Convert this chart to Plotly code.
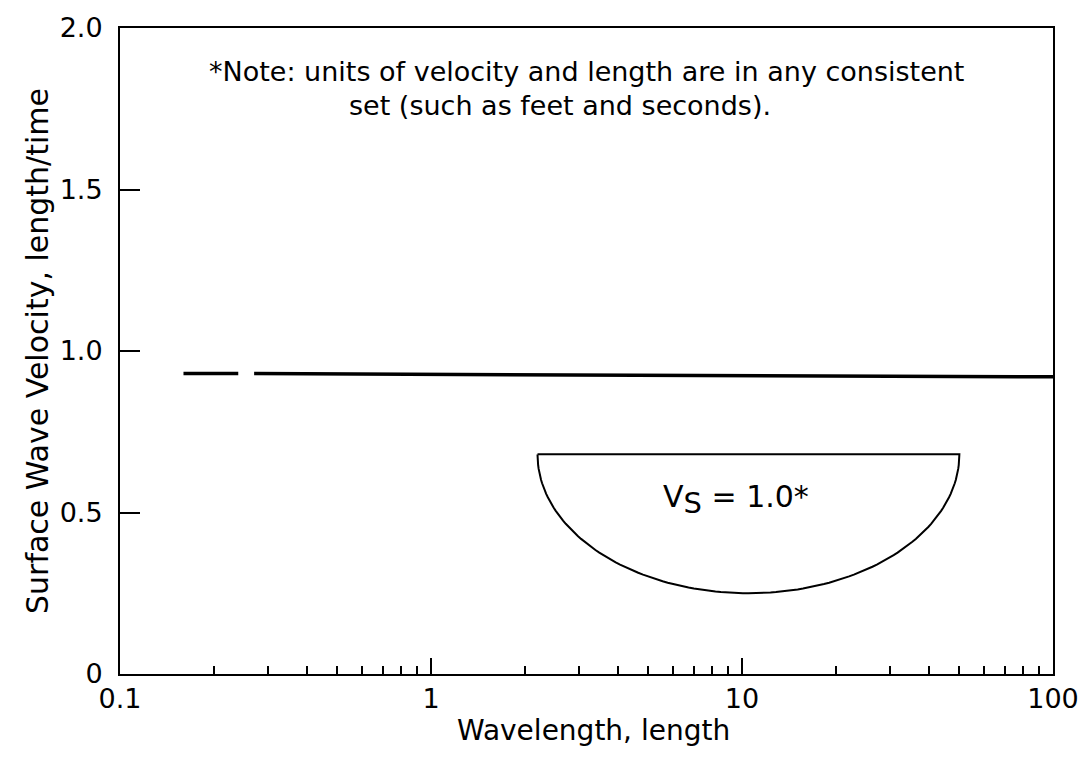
import numpy as np
import plotly.graph_objects as go

# Data
wavelength = [0.16, 0.24, None, 0.27, 100]
velocity = [0.93, 0.93, None, 0.93, 0.92]

# half-space symbol extent (data units)
hs_x_left, hs_x_right = 2.2, 50.0
hs_y_top, hs_y_bottom = 0.68, 0.25

x_tickvals = [0.1, 1, 10, 100]
x_ticktext = ["0.1", "1", "10", "100"]
y_tickvals = [0, 0.5, 1.0, 1.5, 2.0]
y_ticktext = ["0", "0.5", "1.0", "1.5", "2.0"]
minor_vals = [k * 10.0 ** d for d in (-1, 0, 1) for k in range(2, 10)]

FONT = "DejaVu Sans, Liberation Sans, Arial, sans-serif"

# half-ellipse in log-x space
lx0, lx1 = np.log10(hs_x_left), np.log10(hs_x_right)
cx, rx = (lx0 + lx1) / 2, (lx1 - lx0) / 2
t = np.linspace(np.pi, 2 * np.pi, 121)
arc_x = 10 ** (cx + rx * np.cos(t))
arc_y = hs_y_top + (hs_y_top - hs_y_bottom) * np.sin(t)
hs_x = np.concatenate([[hs_x_left], arc_x, [hs_x_right, hs_x_left]])
hs_y = np.concatenate([[hs_y_top], arc_y, [hs_y_top, hs_y_top]])

fig = go.Figure()
fig.add_trace(go.Scatter(x=wavelength, y=velocity, mode="lines",
                         line=dict(color="black", width=3.5), hoverinfo="skip",
                         showlegend=False))
fig.add_trace(go.Scatter(x=hs_x, y=hs_y, mode="lines",
                         line=dict(color="black", width=2), hoverinfo="skip",
                         showlegend=False))

fig.add_annotation(x=-0.72, y=1.865, xref="x", yref="y", xanchor="left", yanchor="middle",
                   text="*Note: units of velocity and length are in any consistent",
                   showarrow=False, font=dict(family=FONT, size=27, color="black"))
fig.add_annotation(x=-0.27, y=1.76, xref="x", yref="y", xanchor="left", yanchor="middle",
                   text="set (such as feet and seconds).",
                   showarrow=False, font=dict(family=FONT, size=27, color="black"))
fig.add_annotation(x=np.log10(9.6), y=0.54, xref="x", yref="y",
                   text="V<sub><span style='font-size:29px'>S</span></sub> = 1.0*",
                   showarrow=False,
                   font=dict(family=FONT, size=30, color="black"))
# x-axis title
fig.add_annotation(x=0.508, y=-0.087, xref="paper", yref="paper",
                   xanchor="center", yanchor="middle",
                   text="Wavelength, length", showarrow=False,
                   font=dict(family=FONT, size=28, color="black"))

fig.update_layout(
    width=1083, height=759,
    margin=dict(l=120, r=30, t=28, b=85),
    paper_bgcolor="white", plot_bgcolor="white",
    font=dict(family=FONT, size=27, color="black"),
    xaxis=dict(type="log", range=[-1, 2], tickmode="array",
               tickvals=x_tickvals, ticktext=x_ticktext,
               ticks="inside", ticklen=16, tickwidth=2, tickcolor="black",
               showline=True, linecolor="black", linewidth=2, mirror=True,
               showgrid=False, zeroline=False, automargin=False,
               tickfont=dict(family=FONT, size=27),
               minor=dict(tickmode="array", tickvals=minor_vals, ticks="inside",
                          ticklen=8, tickwidth=1.5, tickcolor="black", showgrid=False)),
    yaxis=dict(range=[0, 2], tickmode="array", tickvals=y_tickvals, ticktext=y_ticktext,
               ticks="inside", ticklen=20, tickwidth=2, tickcolor="black",
               showline=True, linecolor="black", linewidth=2, mirror=True,
               showgrid=False, zeroline=False, automargin=False,
               tickfont=dict(family=FONT, size=27),
               ticklabelstandoff=10,
               title=dict(text="Surface Wave Velocity, length/time", standoff=2,
                          font=dict(family=FONT, size=30))),
)

fig.write_html("out.html")
